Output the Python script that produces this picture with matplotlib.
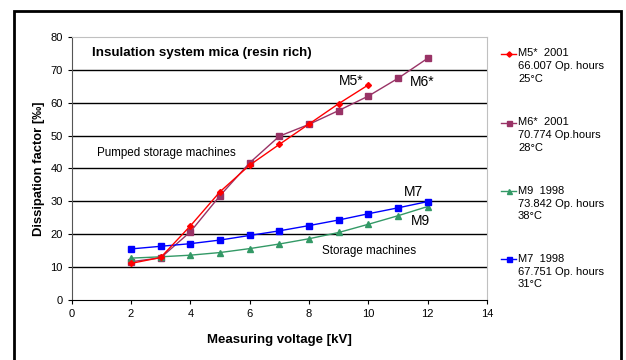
import matplotlib
matplotlib.use("Agg")
import matplotlib.pyplot as plt
from matplotlib.patches import Rectangle
from matplotlib.lines import Line2D

plt.rcParams['font.family'] = ['Liberation Sans', 'DejaVu Sans']

voltage_m5 = [2, 3, 4, 5, 6, 7, 8, 9, 10]
m5 = [11.1, 12.9, 22.5, 32.9, 41.0, 47.3, 53.5, 59.7, 65.4]
voltage_full = [2, 3, 4, 5, 6, 7, 8, 9, 10, 11, 12]
m6 = [11.6, 12.8, 20.7, 31.7, 41.7, 49.8, 53.4, 57.6, 62.0, 67.4, 73.5]
m9 = [12.7, 13.1, 13.6, 14.4, 15.6, 17.0, 18.6, 20.5, 23.0, 25.6, 28.4]
m7 = [15.5, 16.3, 17.1, 18.2, 19.6, 21.0, 22.6, 24.3, 26.2, 28.0, 29.9]

legend_labels = ["M5*  2001\n66.007 Op. hours\n25°C",
                 "M6*  2001\n70.774 Op.hours\n28°C",
                 "M9  1998\n73.842 Op. hours\n38°C",
                 "M7  1998\n67.751 Op. hours\n31°C"]

W, H = 626, 360
fig = plt.figure(figsize=(6.26, 3.6), dpi=100)
ax = fig.add_axes([0.1145, 0.167, 0.6635, 0.7305])

c5, c6, c9, c7 = '#ff0000', '#993366', '#339966', '#0000ff'
styles = [(c5, 'D', 3), (c6, 's', 4), (c9, '^', 4), (c7, 's', 4)]
ax.plot(voltage_m5, m5, color=c5, lw=1.0, marker='D', ms=3, zorder=5)
ax.plot(voltage_full, m6, color=c6, lw=1.0, marker='s', ms=4, zorder=4)
ax.plot(voltage_full, m9, color=c9, lw=1.0, marker='^', ms=4, zorder=4)
ax.plot(voltage_full, m7, color=c7, lw=1.0, marker='s', ms=4, zorder=4)

ax.set_xlim(0, 14)
ax.set_ylim(0, 80)
ax.set_xticks(range(0, 15, 2))
ax.set_yticks(range(0, 81, 10))
for y in range(10, 80, 10):
    ax.axhline(y, color='black', lw=1.0, zorder=1)
ax.tick_params(labelsize=8, length=3, width=0.8, direction='out', colors='black')
ax.spines['top'].set_color('#c0c0c0')
ax.spines['right'].set_color('#c0c0c0')
ax.spines['left'].set_color('#555555')
ax.spines['bottom'].set_color('black')

ax.set_xlabel('Measuring voltage [kV]', fontsize=9.5, fontweight='bold', labelpad=11)
ax.set_ylabel('Dissipation factor [‰]', fontsize=9.4, fontweight='bold', labelpad=4)

ax.text(0.69, 75.0, 'Insulation system mica (resin rich)', fontsize=9.6, fontweight='bold', va='center')
ax.text(9.0, 66.5, 'M5*', fontsize=10, va='center')
ax.text(11.4, 66.2, 'M6*', fontsize=10, va='center')
ax.text(11.2, 32.7, 'M7', fontsize=10, va='center')
ax.text(11.45, 24.1, 'M9', fontsize=10, va='center')
ax.text(0.85, 44.8, 'Pumped storage machines', fontsize=8.4, va='center')
ax.text(8.43, 15.0, 'Storage machines', fontsize=8.4, va='center')

# manual legend
leg_y = [53.5, 122.5, 191, 259]
for (col, mk, ms), lab, yp in zip(styles, legend_labels, leg_y):
    yf = 1 - yp / H
    fig.add_artist(Line2D([501 / W, 516 / W], [yf, yf], color=col, lw=1.0,
                          transform=fig.transFigure))
    fig.add_artist(Line2D([508.5 / W], [yf], color=col, marker=mk, ms=ms * 0.9,
                          transform=fig.transFigure))
    fig.text(518 / W, 1 - (yp - 5) / H, lab, fontsize=8, va='top', ha='left',
             linespacing=1.33)

fig.patches.append(Rectangle((14 / W, -0.1), (621 - 14) / W, (H - 11) / H + 0.1,
                             transform=fig.transFigure, fill=False,
                             edgecolor='black', lw=2))

fig.savefig('out.png', dpi=100)
